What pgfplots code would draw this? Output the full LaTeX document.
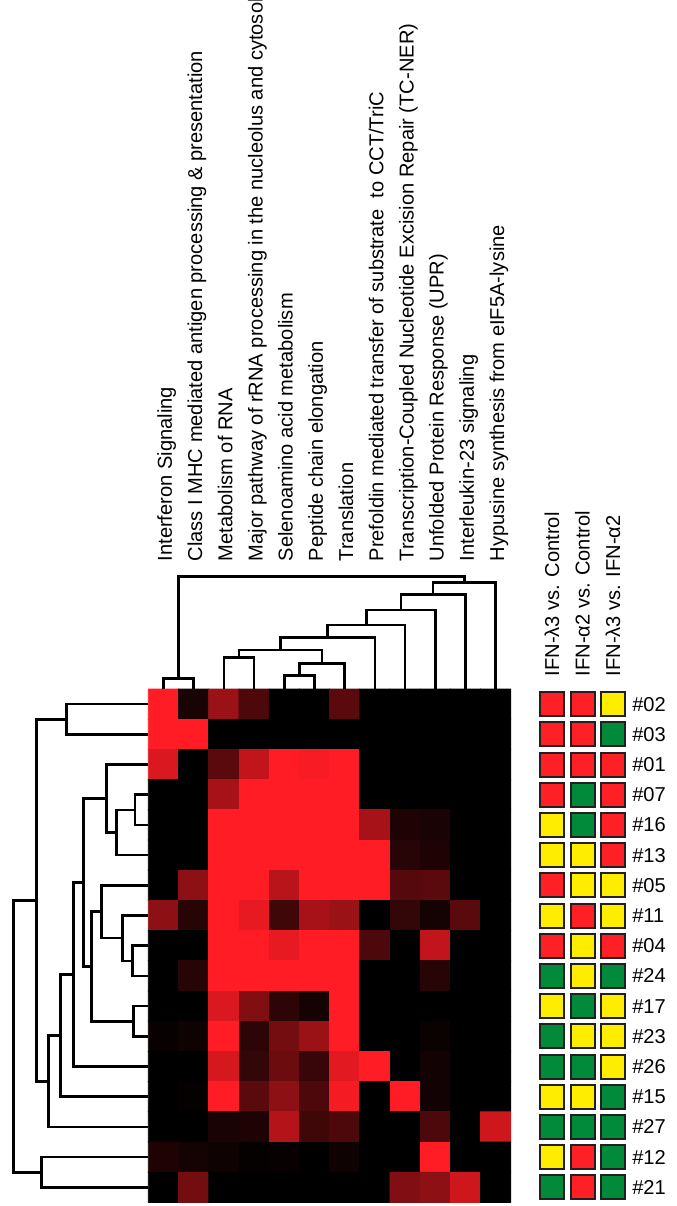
\documentclass[border=0pt]{standalone}
\usepackage{fontspec}
\setmainfont{Liberation Sans}
\usepackage{pgfplots}
\pgfplotsset{compat=1.18}

\definecolor{boxred}{RGB}{255,32,38}
\definecolor{boxgreen}{RGB}{0,138,58}
\definecolor{boxyellow}{RGB}{255,237,0}
\definecolor{boxedge}{RGB}{35,31,32}

\tikzset{lab/.style={font=\fontsize{10.05}{12}\selectfont, inner sep=0pt}}
\pgfplotsset{
  dendro/.style={black, line width=1.3pt, mark=none, line join=miter},
  box/.style={only marks, mark=square*, mark size=6pt,
    mark options={fill=#1, draw=boxedge, line width=1pt}},
}

\begin{document}
\begin{tikzpicture}
\begin{axis}[
  scale only axis, width=338pt, height=603pt,
  xmin=-4.411, xmax=17.97, ymin=-22.315, ymax=17.619,
  y dir=reverse, hide axis, clip=false,
  colormap={hm}{rgb255=(0,0,0) rgb255=(255,28,36)},
  point meta min=0, point meta max=1,
]

% heatmap: columns = pathways, rows = samples (top to bottom)
\addplot[matrix plot*, mesh/cols=12, point meta=explicit]
  table[x=x, y=y, meta=v, row sep=\\] {
x y v \\
1 1 1 \\ 2 1 .1 \\ 3 1 .6 \\ 4 1 .3 \\ 5 1 0 \\ 6 1 0 \\ 7 1 .35 \\ 8 1 0 \\ 9 1 0 \\ 10 1 0 \\ 11 1 0 \\ 12 1 0 \\
1 2 1 \\ 2 2 1 \\ 3 2 0 \\ 4 2 0 \\ 5 2 0 \\ 6 2 0 \\ 7 2 0 \\ 8 2 0 \\ 9 2 0 \\ 10 2 0 \\ 11 2 0 \\ 12 2 0 \\
1 3 .85 \\ 2 3 0 \\ 3 3 .35 \\ 4 3 .75 \\ 5 3 1 \\ 6 3 .97 \\ 7 3 1 \\ 8 3 0 \\ 9 3 0 \\ 10 3 0 \\ 11 3 0 \\ 12 3 0 \\
1 4 0 \\ 2 4 0 \\ 3 4 .65 \\ 4 4 1 \\ 5 4 1 \\ 6 4 1 \\ 7 4 1 \\ 8 4 0 \\ 9 4 0 \\ 10 4 0 \\ 11 4 0 \\ 12 4 0 \\
1 5 0 \\ 2 5 0 \\ 3 5 1 \\ 4 5 1 \\ 5 5 1 \\ 6 5 1 \\ 7 5 1 \\ 8 5 .65 \\ 9 5 .12 \\ 10 5 .1 \\ 11 5 0 \\ 12 5 0 \\
1 6 0 \\ 2 6 0 \\ 3 6 1 \\ 4 6 1 \\ 5 6 1 \\ 6 6 1 \\ 7 6 1 \\ 8 6 1 \\ 9 6 .15 \\ 10 6 .12 \\ 11 6 0 \\ 12 6 0 \\
1 7 0 \\ 2 7 .55 \\ 3 7 1 \\ 4 7 1 \\ 5 7 .72 \\ 6 7 1 \\ 7 7 1 \\ 8 7 1 \\ 9 7 .33 \\ 10 7 .35 \\ 11 7 0 \\ 12 7 0 \\
1 8 .55 \\ 2 8 .15 \\ 3 8 1 \\ 4 8 .9 \\ 5 8 .25 \\ 6 8 .65 \\ 7 8 .6 \\ 8 8 0 \\ 9 8 .2 \\ 10 8 .08 \\ 11 8 .35 \\ 12 8 0 \\
1 9 0 \\ 2 9 0 \\ 3 9 1 \\ 4 9 1 \\ 5 9 .9 \\ 6 9 1 \\ 7 9 1 \\ 8 9 .3 \\ 9 9 0 \\ 10 9 .75 \\ 11 9 0 \\ 12 9 0 \\
1 10 0 \\ 2 10 .15 \\ 3 10 1 \\ 4 10 1 \\ 5 10 1 \\ 6 10 1 \\ 7 10 1 \\ 8 10 0 \\ 9 10 0 \\ 10 10 .15 \\ 11 10 0 \\ 12 10 0 \\
1 11 0 \\ 2 11 0 \\ 3 11 .85 \\ 4 11 .5 \\ 5 11 .18 \\ 6 11 .08 \\ 7 11 1 \\ 8 11 0 \\ 9 11 0 \\ 10 11 0 \\ 11 11 0 \\ 12 11 0 \\
1 12 .03 \\ 2 12 .06 \\ 3 12 1 \\ 4 12 .18 \\ 5 12 .45 \\ 6 12 .6 \\ 7 12 1 \\ 8 12 0 \\ 9 12 0 \\ 10 12 .04 \\ 11 12 0 \\ 12 12 0 \\
1 13 0 \\ 2 13 0 \\ 3 13 .83 \\ 4 13 .2 \\ 5 13 .42 \\ 6 13 .22 \\ 7 13 .88 \\ 8 13 1 \\ 9 13 0 \\ 10 13 .07 \\ 11 13 0 \\ 12 13 0 \\
1 14 0 \\ 2 14 .02 \\ 3 14 1 \\ 4 14 .35 \\ 5 14 .55 \\ 6 14 .3 \\ 7 14 .95 \\ 8 14 0 \\ 9 14 1 \\ 10 14 .07 \\ 11 14 0 \\ 12 14 0 \\
1 15 0 \\ 2 15 0 \\ 3 15 .1 \\ 4 15 .12 \\ 5 15 .7 \\ 6 15 .25 \\ 7 15 .3 \\ 8 15 0 \\ 9 15 0 \\ 10 15 .3 \\ 11 15 0 \\ 12 15 .8 \\
1 16 .12 \\ 2 16 .08 \\ 3 16 .06 \\ 4 16 .02 \\ 5 16 .03 \\ 6 16 0 \\ 7 16 .06 \\ 8 16 0 \\ 9 16 0 \\ 10 16 1 \\ 11 16 0 \\ 12 16 0 \\
1 17 0 \\ 2 17 .45 \\ 3 17 0 \\ 4 17 0 \\ 5 17 0 \\ 6 17 0 \\ 7 17 0 \\ 8 17 0 \\ 9 17 .5 \\ 10 17 .55 \\ 11 17 .8 \\ 12 17 0 \\
};

% column dendrogram (x = leaf position, y = merge height)
\addplot[dendro] coordinates {(1,0.5) (1,0.146) (2,0.146) (2,0.5)};
\addplot[dendro] coordinates {(5,0.5) (5,0.06) (6,0.06) (6,0.5)};
\addplot[dendro] coordinates {(3,0.5) (3,-0.536) (4,-0.536) (4,0.5)};
\addplot[dendro] coordinates {(5.5,0.06) (5.5,-0.351) (7,-0.351) (7,0.5)};
\addplot[dendro] coordinates {(3.5,-0.536) (3.5,-0.791) (6.25,-0.791) (6.25,-0.351)};
\addplot[dendro] coordinates {(4.875,-0.791) (4.875,-1.199) (8,-1.199) (8,0.5)};
\addplot[dendro] coordinates {(6.4375,-1.199) (6.4375,-1.619) (9,-1.619) (9,0.5)};
\addplot[dendro] coordinates {(7.72,-1.619) (7.72,-2.116) (10,-2.116) (10,0.5)};
\addplot[dendro] coordinates {(8.86,-2.116) (8.86,-2.636) (11,-2.636) (11,0.5)};
\addplot[dendro] coordinates {(9.93,-2.636) (9.93,-3.02) (12,-3.02) (12,0.5)};
\addplot[dendro] coordinates {(1.5,0.146) (1.5,-3.219) (10.965,-3.219) (10.965,-3.02)};

% row dendrogram (x = merge height, y = leaf position)
\addplot[dendro] coordinates {(0.5,1) (-2.202,1) (-2.202,2) (0.5,2)};
\addplot[dendro] coordinates {(0.5,4) (0.06,4) (0.06,5) (0.5,5)};
\addplot[dendro] coordinates {(0.06,4.5) (-0.546,4.5) (-0.546,6) (0.5,6)};
\addplot[dendro] coordinates {(0.5,3) (-0.877,3) (-0.877,5.25) (-0.546,5.25)};
\addplot[dendro] coordinates {(0.5,9) (-0.017,9) (-0.017,10) (0.5,10)};
\addplot[dendro] coordinates {(0.5,8) (-0.348,8) (-0.348,9.5) (-0.017,9.5)};
\addplot[dendro] coordinates {(0.5,7) (-1.043,7) (-1.043,8.75) (-0.348,8.75)};
\addplot[dendro] coordinates {(0.5,11) (0.003,11) (0.003,12) (0.5,12)};
\addplot[dendro] coordinates {(-1.043,7.875) (-1.374,7.875) (-1.374,11.5) (0.003,11.5)};
\addplot[dendro] coordinates {(-0.877,4.125) (-1.652,4.125) (-1.652,9.6875) (-1.374,9.6875)};
\addplot[dendro] coordinates {(-1.652,6.906) (-1.983,6.906) (-1.983,13) (0.5,13)};
\addplot[dendro] coordinates {(-1.983,9.953) (-2.4,9.953) (-2.4,14) (0.5,14)};
\addplot[dendro] coordinates {(-2.4,11.977) (-2.811,11.977) (-2.811,15) (0.5,15)};
\addplot[dendro] coordinates {(-2.202,1.5) (-3.195,1.5) (-3.195,13.488) (-2.811,13.488)};
\addplot[dendro] coordinates {(0.5,16) (-3.03,16) (-3.03,17) (0.5,17)};
\addplot[dendro] coordinates {(-3.195,7.494) (-3.97,7.494) (-3.97,16.5) (-3.03,16.5)};

% comparison boxes
\addplot[box=boxred] coordinates {(13.87,1) (14.88,1) (13.87,2) (14.88,2) (13.87,3) (14.88,3) (15.89,3)
  (13.87,4) (15.89,4) (15.89,5) (15.89,6) (13.87,7) (14.88,8) (13.87,9) (15.89,9) (14.88,16) (14.88,17)};
\addplot[box=boxyellow] coordinates {(15.89,1) (13.87,5) (13.87,6) (14.88,6) (14.88,7) (15.89,7) (13.87,8)
  (15.89,8) (14.88,9) (14.88,10) (13.87,11) (15.89,11) (14.88,12) (15.89,12) (15.89,13) (13.87,14)
  (14.88,14) (13.87,16)};
\addplot[box=boxgreen] coordinates {(15.89,2) (14.88,4) (14.88,5) (13.87,10) (15.89,10) (14.88,11) (13.87,12)
  (13.87,13) (14.88,13) (15.89,14) (13.87,15) (14.88,15) (15.89,15) (15.89,16) (13.87,17) (15.89,17)};

% pathway labels
\node[lab, rotate=90, anchor=base west] at (axis cs:1.28,-3.715) {Interferon Signaling};
\node[lab, rotate=90, anchor=base west] at (axis cs:2.28,-3.715) {Class I MHC mediated antigen processing \& presentation};
\node[lab, rotate=90, anchor=base west] at (axis cs:3.28,-3.715) {Metabolism of RNA};
\node[lab, rotate=90, anchor=base west] at (axis cs:4.28,-3.715) {Major pathway of rRNA processing in the nucleolus and cytosol};
\node[lab, rotate=90, anchor=base west] at (axis cs:5.28,-3.715) {Selenoamino acid metabolism};
\node[lab, rotate=90, anchor=base west] at (axis cs:6.28,-3.715) {Peptide chain elongation};
\node[lab, rotate=90, anchor=base west] at (axis cs:7.28,-3.715) {Translation};
\node[lab, rotate=90, anchor=base west] at (axis cs:8.28,-3.715) {Prefoldin mediated transfer of substrate\ \ to CCT/TriC};
\node[lab, rotate=90, anchor=base west] at (axis cs:9.28,-3.715) {Transcription-Coupled Nucleotide Excision Repair (TC-NER)};
\node[lab, rotate=90, anchor=base west] at (axis cs:10.28,-3.715) {Unfolded Protein Response (UPR)};
\node[lab, rotate=90, anchor=base west] at (axis cs:11.28,-3.715) {Interleukin-23 signaling};
\node[lab, rotate=90, anchor=base west] at (axis cs:12.28,-3.715) {Hypusine synthesis from eIF5A-lysine};

% comparison headers
\node[lab, rotate=90, anchor=base west] at (axis cs:14.10,0.093) {IFN-λ3 vs. Control};
\node[lab, rotate=90, anchor=base west] at (axis cs:15.11,0.093) {IFN-α2 vs. Control};
\node[lab, rotate=90, anchor=base west] at (axis cs:16.12,0.093) {IFN-λ3 vs. IFN-α2};

% sample labels
\node[lab, anchor=west] at (axis cs:16.51,1) {\#02};
\node[lab, anchor=west] at (axis cs:16.51,2) {\#03};
\node[lab, anchor=west] at (axis cs:16.51,3) {\#01};
\node[lab, anchor=west] at (axis cs:16.51,4) {\#07};
\node[lab, anchor=west] at (axis cs:16.51,5) {\#16};
\node[lab, anchor=west] at (axis cs:16.51,6) {\#13};
\node[lab, anchor=west] at (axis cs:16.51,7) {\#05};
\node[lab, anchor=west] at (axis cs:16.51,8) {\#11};
\node[lab, anchor=west] at (axis cs:16.51,9) {\#04};
\node[lab, anchor=west] at (axis cs:16.51,10) {\#24};
\node[lab, anchor=west] at (axis cs:16.51,11) {\#17};
\node[lab, anchor=west] at (axis cs:16.51,12) {\#23};
\node[lab, anchor=west] at (axis cs:16.51,13) {\#26};
\node[lab, anchor=west] at (axis cs:16.51,14) {\#15};
\node[lab, anchor=west] at (axis cs:16.51,15) {\#27};
\node[lab, anchor=west] at (axis cs:16.51,16) {\#12};
\node[lab, anchor=west] at (axis cs:16.51,17) {\#21};
\end{axis}
\pgfresetboundingbox
\path[use as bounding box] (current axis.south west) rectangle (current axis.north east);
\end{tikzpicture}
\end{document}
